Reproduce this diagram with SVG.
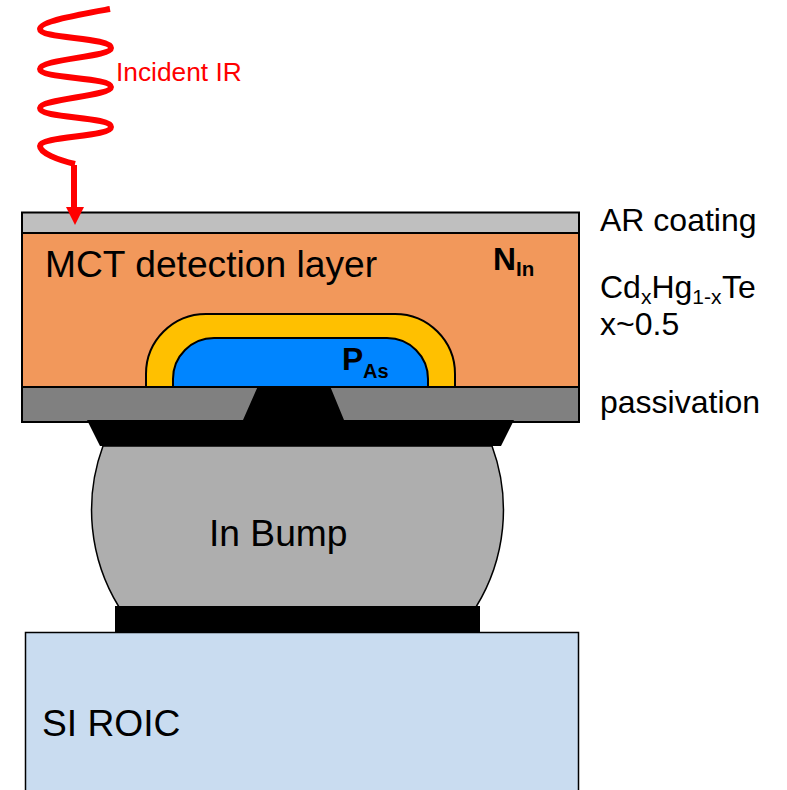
<svg xmlns="http://www.w3.org/2000/svg" width="787" height="790" viewBox="0 0 787 790">
<style>
text{font-family:"Liberation Sans",Arial,sans-serif;fill:#000}
.l{stroke:#000;stroke-width:2}
.t{font-size:32px}
.m{font-size:37.200px}
.b{font-weight:bold}
</style>
<rect width="787" height="790" fill="#fff"/>
<g id="bump"><path d="M103 446A185 185 0 0 0 119 607H476A185 185 0 0 0 492 446Z" fill="#aeaeae" stroke="#000" stroke-width="1.500"/></g>
<g id="roic"><rect x="25.500" y="632.500" width="553" height="170" fill="#c9dcf0" stroke="#000" stroke-width="1.500"/><text class="m" x="42" y="736">SI ROIC</text></g>
<g id="bump-pad"><rect x="115" y="606" width="365" height="27" fill="#000"/></g>
<g id="bump-label"><text class="m" x="209" y="546">In Bump</text></g>
<g id="ar-coating"><rect x="22" y="212.500" width="557" height="20.500" fill="#bfbfbf" class="l"/></g>
<g id="mct"><rect x="22" y="233" width="557" height="154" fill="#f2985b" class="l"/><text class="m" x="45" y="277">MCT detection layer</text><text class="b" font-size="31.800" x="493" y="270">N<tspan font-size="20.500" dy="6">In</tspan></text></g>
<g id="p-junction"><path d="M146 387V374A60 60 0 0 1 206 314H395A60 60 0 0 1 455 374V387Z" fill="#ffc000" class="l"/><path d="M173 387V379A41 41 0 0 1 214 338H387A41 41 0 0 1 428 379V387Z" fill="#0085ff" class="l"/><text class="b" font-size="31.800" x="342" y="370">P<tspan font-size="20" x="363" dy="8">As</tspan></text></g>
<g id="passivation"><rect x="22" y="387" width="557" height="35" fill="#808080" class="l"/></g>
<g id="contact"><path d="M87 420H243L258 386H330L344 420H514L501 446H100Z" fill="#000"/></g>
<g id="labels"><text class="t" x="600" y="231">AR coating</text><text class="t" x="600" y="298">Cd<tspan font-size="21" dy="6">x</tspan><tspan dy="-6">Hg</tspan><tspan font-size="21" dy="6">1-x</tspan><tspan dy="-6" x="722">Te</tspan></text><text class="t" x="600" y="335">x~0.5</text><text class="t" x="600" y="413">passivation</text></g>
<g id="connectors"><path d="M110 9C82 14 40 21 40 29C40 39 111 37 111 48C111 57 40 59 40 69C40 79 111 77 111 87C111 96 40 99 40 108C40 119 111 116 111 127C111 137 40 136 40 146C40 153 58 160 75 164" fill="none" stroke="#f00" stroke-width="6"/><path d="M74 165V208" fill="none" stroke="#f00" stroke-width="6"/><path d="M66 207H84L75 225Z" fill="#f00"/></g>
<g id="ir-label"><text font-size="26.300" x="116" y="81" style="fill:#f00">Incident IR</text></g>
</svg>
